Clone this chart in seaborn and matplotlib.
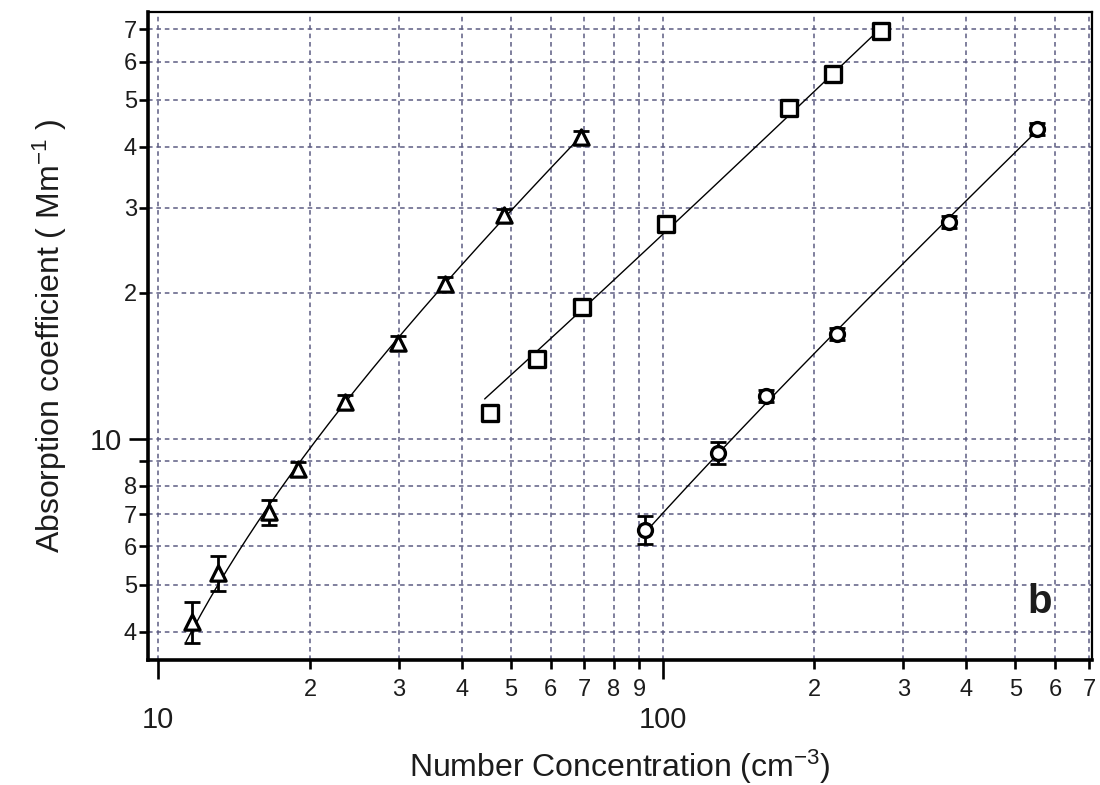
import numpy as np
import pandas as pd
import matplotlib
matplotlib.use("Agg")
import matplotlib.pyplot as plt
import seaborn as sns
from matplotlib.ticker import LogLocator, FuncFormatter

# Measured series (number concentration in cm^-3, absorption coefficient in Mm^-1)
tri_conc = [11.7, 13.15, 16.6, 18.9, 23.5, 29.9, 37.0, 48.5, 68.8]
tri_abs = [4.2, 5.3, 7.07, 8.67, 11.9, 15.77, 20.87, 28.9, 41.9]
tri_err = [0.40, 0.44, 0.42, 0.30, 0.40, 0.50, 0.65, 0.90, 1.30]

sq_conc = [45.4, 56.3, 69.1, 101.8, 178.4, 218.0, 271.5]
sq_abs = [11.3, 14.6, 18.7, 27.8, 48.1, 56.6, 69.4]

ci_conc = [92.5, 128.5, 160.7, 222.0, 370.0, 553.0]
ci_abs = [6.49, 9.36, 12.26, 16.46, 28.0, 43.6]
ci_err = [0.43, 0.49, 0.36, 0.48, 0.82, 1.25]

# x extent of each linear fit line
tri_fit_range = [11.36, 68.8]
sq_fit_range = [44.4, 271.5]
ci_fit_range = [92.5, 553.0]

x_limits = [9.55, 710.0]
y_limits = [3.5, 75.9]

panel_tag = "b"
x_title = "Number Concentration (cm$^{-3}$)"
y_title = "Absorption coefficient ( Mm$^{-1}$ )"

text_color = "#1c1c1c"
grid_color = "#5c5c82"

sns.set_theme(context="notebook", style="white")
plt.rcParams["font.family"] = ["Liberation Sans", "DejaVu Sans"]
plt.rcParams["mathtext.fontset"] = "custom"
plt.rcParams["mathtext.rm"] = "Liberation Sans"
plt.rcParams["mathtext.it"] = "Liberation Sans:italic"
plt.rcParams["mathtext.default"] = "regular"

fig = plt.figure(figsize=(11, 7.85), dpi=100)
ax = fig.add_axes([148 / 1100, 1 - 660 / 785, (1092 - 148) / 1100, 648 / 785])
ax.set_xscale("log")
ax.set_yscale("log")
ax.set_xlim(*x_limits)
ax.set_ylim(*y_limits)

# linear least-squares fits, drawn over each series' range
fits = [(tri_conc, tri_abs, tri_fit_range),
        (sq_conc, sq_abs, sq_fit_range),
        (ci_conc, ci_abs, ci_fit_range)]
for xs, ys, rng in fits:
    slope, icpt = np.polyfit(xs, ys, 1)
    xf = np.geomspace(rng[0], rng[1], 200)
    sns.lineplot(x=xf, y=slope * xf + icpt, ax=ax, color="black",
                 linewidth=1.0, estimator=None, sort=False, zorder=2.5)

# error bars
ax.errorbar(tri_conc, tri_abs, yerr=tri_err, fmt="none", ecolor="black",
            elinewidth=2.0, capsize=6, capthick=2.0, zorder=3)
ax.errorbar(ci_conc, ci_abs, yerr=ci_err, fmt="none", ecolor="black",
            elinewidth=2.0, capsize=5.5, capthick=2.0, zorder=3)

# open markers
sns.scatterplot(x=tri_conc, y=tri_abs, ax=ax, marker="^", s=11 ** 2,
                color="white", edgecolor="black", linewidth=2.3, zorder=4)
sns.scatterplot(x=sq_conc, y=sq_abs, ax=ax, marker="s", s=11.2 ** 2,
                color="white", edgecolor="black", linewidth=2.4, zorder=4)
sns.scatterplot(x=ci_conc, y=ci_abs, ax=ax, marker="o", s=10 ** 2,
                color="white", edgecolor="black", linewidth=2.4, zorder=4)

# ticks: decades and every intermediate digit
for axis in (ax.xaxis, ax.yaxis):
    axis.set_major_locator(LogLocator(base=10, subs=(1.0,)))
    axis.set_minor_locator(LogLocator(base=10, subs=np.arange(2, 10)))
    axis.set_major_formatter(FuncFormatter(lambda v, p: f"{v:g}"))


def digit_label(v, p, skip=()):
    d = int(round(v / 10 ** np.floor(np.log10(v) + 1e-9)))
    return "" if d in skip else str(d)


ax.xaxis.set_minor_formatter(FuncFormatter(lambda v, p: digit_label(v, p)))
ax.yaxis.set_minor_formatter(FuncFormatter(lambda v, p: digit_label(v, p, skip=(9,))))

ax.tick_params(which="both", direction="out", bottom=True, left=True,
               top=False, right=False, color="black", width=1.9,
               labelcolor=text_color)
ax.tick_params(axis="x", which="major", length=14, pad=19, labelsize=21)
ax.tick_params(axis="x", which="minor", length=6.5, pad=7.5, labelsize=17)
ax.tick_params(axis="y", which="major", length=14, pad=5, labelsize=21)
ax.tick_params(axis="y", which="minor", length=6.5, pad=1.5, labelsize=17)

ax.grid(which="both", color=grid_color, linestyle=(0, (3, 2.5)), linewidth=1.1)
ax.set_axisbelow(True)

for side in ("left", "bottom"):
    ax.spines[side].set_linewidth(2.6)
    ax.spines[side].set_color("black")
for side in ("top", "right"):
    ax.spines[side].set_linewidth(1.6)
    ax.spines[side].set_color("black")

ax.set_xlabel(x_title, fontsize=23, color=text_color)
ax.set_ylabel(y_title, fontsize=23, color=text_color)
ax.xaxis.set_label_coords(0.5, -0.1806)
ax.xaxis.label.set_verticalalignment("baseline")
ax.yaxis.set_label_coords(-0.093, 0.5)
ax.yaxis.label.set_verticalalignment("baseline")

ax.text(0.945, 0.0725, panel_tag, transform=ax.transAxes, fontsize=29,
        fontweight="bold", ha="center", va="baseline", color=text_color)

fig.savefig("out.png", dpi=100)
